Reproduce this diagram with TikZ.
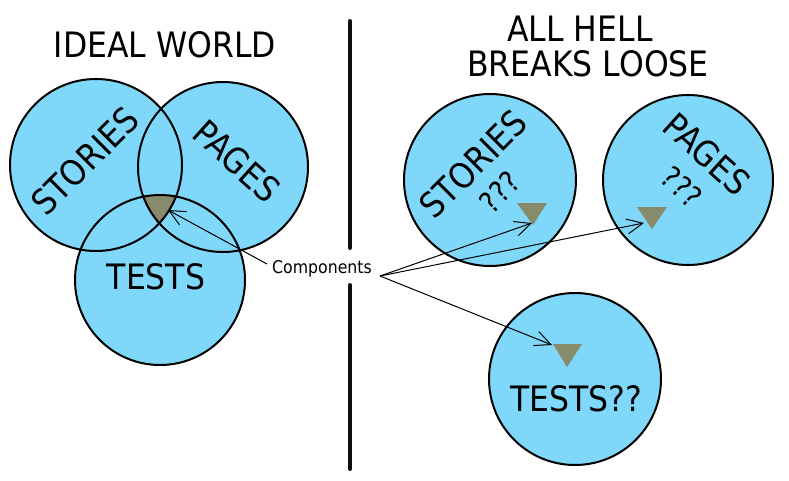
\documentclass[tikz,border=0pt]{standalone}
\usepackage{fontspec}
\setmainfont[FakeStretch=0.9]{DejaVu Sans}
\usetikzlibrary{arrows.meta}
\definecolor{skyfill}{HTML}{7FD8FA}
\definecolor{olivefill}{HTML}{878A6B}
\definecolor{divider}{HTML}{0B1117}
\begin{document}
\begin{tikzpicture}[x=1pt,y=-1pt,
  ring/.style={draw=black, line width=2pt},
  disc/.style={fill=skyfill},
  bigtext/.style={font=\fontsize{35}{42}\selectfont, inner sep=0pt, text=black},
  qtext/.style={font=\fontsize{30}{36}\selectfont, inner sep=0pt, text=black},
  smalltext/.style={font=\fontsize{17.5}{21}\selectfont, inner sep=0pt, text=black},
  comparrow/.style={-{Straight Barb[length=16pt,width=15pt]}, line width=1pt},
  divline/.style={draw=divider, line width=4pt, line cap=round},
  tri/.style={fill=olivefill}
]
\useasboundingbox (0,0) rectangle (789,481);
\fill[white] (0,0) rectangle (789,481);

% centres
\coordinate (lsc) at (96,165);
\coordinate (lpc) at (223,167);
\coordinate (ltc) at (160,280);
\coordinate (rsc) at (490,180);
\coordinate (rpc) at (688,180);
\coordinate (rtc) at (575,379);

% left venn
\fill[skyfill] (lsc) circle[radius=86pt];
\fill[skyfill] (lpc) circle[radius=85pt];
\fill[skyfill] (ltc) circle[radius=85pt];
\begin{scope}
  \clip (lsc) circle[radius=86pt];
  \clip (lpc) circle[radius=85pt];
  \fill[olivefill] (ltc) circle[radius=85pt];
\end{scope}
\draw[ring] (lsc) circle[radius=86pt];
\draw[ring] (lpc) circle[radius=85pt];
\draw[ring] (ltc) circle[radius=85pt];

% right circles
\filldraw[disc, ring] (rsc) circle[radius=86pt];
\filldraw[disc, ring] (rpc) circle[radius=85pt];
\filldraw[disc, ring] (rtc) circle[radius=86pt];

% triangles
\fill[tri] (517,203) -- (547,203) -- (533,225) -- cycle;
\fill[tri] (637,207) -- (667,207) -- (652,229) -- cycle;
\fill[tri] (553,344) -- (582,344) -- (567,367) -- cycle;

% divider
\coordinate (d1) at (350,21);
\coordinate (d2) at (350,248);
\coordinate (d3) at (350,285);
\coordinate (d4) at (350,469);
\draw[divline] (d1) -- (d2);
\draw[divline] (d3) -- (d4);

% titles
\node[bigtext] (t1) at (165,45) {IDEAL WORLD};
\node[bigtext] (t2) at (580,29) {ALL HELL};
\node[bigtext] (t3) at (588,64) {BREAKS LOOSE};

% labels
\node[bigtext, rotate=45] (ls) at (85,161) {STORIES};
\node[bigtext, rotate=-42] (lp) at (237,161) {PAGES};
\node[bigtext] (lt) at (156,277) {TESTS};
\node[bigtext, rotate=45] (rs) at (473,164) {STORIES};
\node[qtext, rotate=45] (rsq) at (500,192) {???};
\node[bigtext, rotate=-42] (rp) at (707,154) {PAGES};
\node[qtext, rotate=-42] (rpq) at (682,187) {???};
\node[bigtext] (rt) at (576,399) {TESTS??};

\node[smalltext] (comp) at (322,269) {Components};

% arrows
\coordinate (cleft) at (267,264);
\coordinate (cright) at (380,276);
\coordinate (vtip) at (168,210);
\coordinate (stip) at (532,223);
\coordinate (ptip) at (644,223);
\coordinate (ttip) at (552,345);
\draw[comparrow] (cleft) -- (vtip);
\draw[comparrow] (cright) -- (stip);
\draw[comparrow] (cright) -- (ptip);
\draw[comparrow] (cright) -- (ttip);
\end{tikzpicture}
\end{document}
